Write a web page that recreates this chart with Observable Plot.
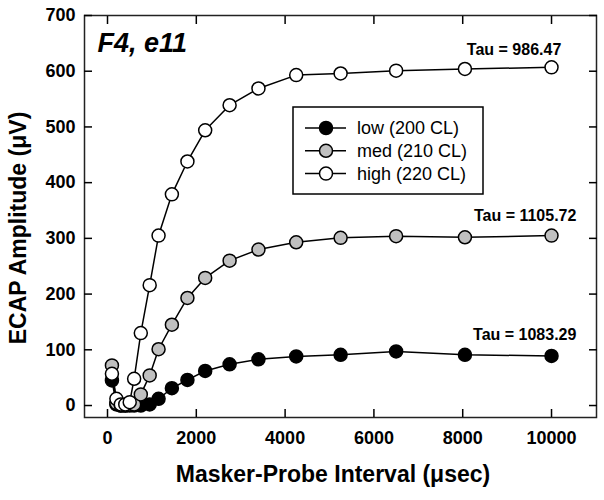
<!DOCTYPE html>
<html><head><meta charset="utf-8">
<script src="https://cdn.jsdelivr.net/npm/d3@7"></script>
<script src="https://cdn.jsdelivr.net/npm/@observablehq/plot@0.6"></script>
<style>body{margin:0;background:#fff} #chart{width:604px;height:500px}</style>
</head><body><div id="chart"></div>
<script>
const intervals = [100,200,300,400,500,600,750,950,1150,1450,1800,2200,2750,3400,4250,5250,6500,8050,10000];
const lowValues = [45,2,0,0,0,0,0,2,12,31,46,62,74,83,88,91,97,91,89];
const medValues = [72,4,0,0,2,2,20,54,101,145,193,229,260,280,293,301,304,302,305];
const highValues = [57,12,2,2,6,48,130,216,305,379,438,494,539,569,593,596,601,604,607];
const seriesNames = ["low (200 CL)","med (210 CL)","high (220 CL)"];
const seriesFills = ["#000000","#c0c0c0","#ffffff"];
const tauLabels = ["Tau = 1083.29","Tau = 1105.72","Tau = 986.47"];
const tauX = [10560,10560,10220];
const tauY = [117,332,630];
const panelLabel = "F4, e11";
const xTicks = [0,2000,4000,6000,8000,10000];
const yTicks = [0,100,200,300,400,500,600,700];
const xTitle = "Masker-Probe Interval (\u03bcsec)";
const yTitle = "ECAP Amplitude (\u03bcV)";

const seriesValues = [lowValues, medValues, highValues];
const rows = [];
seriesValues.forEach((vals, s) => vals.forEach((v, i) => rows.push({series: seriesNames[s], s, x: intervals[i], y: v})));
const taus = tauLabels.map((t, i) => ({text: t, x: tauX[i], y: tauY[i]}));

const FONT = "Liberation Sans, Arial, Helvetica, sans-serif";
const marks = [];
seriesNames.forEach((name, s) => {
  const d = rows.filter(r => r.s === s);
  marks.push(Plot.line(d, {x: "x", y: "y", stroke: "#000", strokeWidth: 1.5}));
  marks.push(Plot.dot(d, {x: "x", y: "y", r: 6.5, fill: seriesFills[s], stroke: "#000", strokeWidth: 1.5}));
});

const chart = Plot.plot({
  width: 604, height: 500,
  marginLeft: 84, marginRight: 8, marginTop: 15, marginBottom: 83,
  style: {fontFamily: FONT, fontSize: "18px", fontWeight: "bold", color: "#000", background: "#fff"},
  x: {domain: [-518, 11013]},
  y: {domain: [-21.5, 700]},
  marks: [
    Plot.frame({stroke: "#222", strokeWidth: 1.5}),
    Plot.axisX({ticks: xTicks, anchor: "bottom", tickSize: -8, tickPadding: 22, tickFormat: d => String(d), label: null, strokeWidth: 1.5, fontSize: 18}),
    Plot.axisX({ticks: xTicks, anchor: "top", tickSize: -8, fill: "none", label: null, strokeWidth: 1.5}),
    Plot.axisY({ticks: yTicks, anchor: "left", tickSize: -8, tickPadding: 17, tickFormat: d => String(d), label: null, strokeWidth: 1.5, fontSize: 18}),
    Plot.axisY({ticks: yTicks, anchor: "right", tickSize: -8, fill: "none", label: null, strokeWidth: 1.5}),
    ...marks,
    Plot.text(taus, {x: "x", y: "y", text: "text", textAnchor: "end", lineAnchor: "bottom", fontSize: 16, fontWeight: "bold"}),
    Plot.text([panelLabel], {text: d => d, frameAnchor: "top-left", dx: 13, dy: 17, lineAnchor: "top", textAnchor: "start", fontSize: 27, fontWeight: "bold", fontStyle: "italic"})
  ]
});

const svg = d3.select(chart);
svg.append("text").attr("x", 333).attr("y", 474).attr("text-anchor", "middle").attr("dominant-baseline", "central")
  .style("font", `bold 23px ${FONT}`).text(xTitle);
svg.append("text").attr("transform", "translate(18,228) rotate(-90)").attr("text-anchor", "middle").attr("dominant-baseline", "central")
  .style("font", `bold 23px ${FONT}`).text(yTitle);

const lg = svg.append("g");
lg.append("rect").attr("x", 293).attr("y", 107).attr("width", 190).attr("height", 87).attr("fill", "#fff").attr("stroke", "#000").attr("stroke-width", 1.5);
seriesNames.forEach((name, s) => {
  const cy = 128 + s * 22.8;
  lg.append("line").attr("x1", 305).attr("x2", 346).attr("y1", cy).attr("y2", cy).attr("stroke", "#000").attr("stroke-width", 1.5);
  lg.append("circle").attr("cx", 326).attr("cy", cy).attr("r", 6.5).attr("fill", seriesFills[s]).attr("stroke", "#000").attr("stroke-width", 1.5);
  lg.append("text").attr("x", 357).attr("y", cy).attr("text-anchor", "start").attr("dominant-baseline", "central")
    .style("font", `normal 18px ${FONT}`).text(name);
});

document.getElementById("chart").appendChild(chart);
</script>
</body></html>
